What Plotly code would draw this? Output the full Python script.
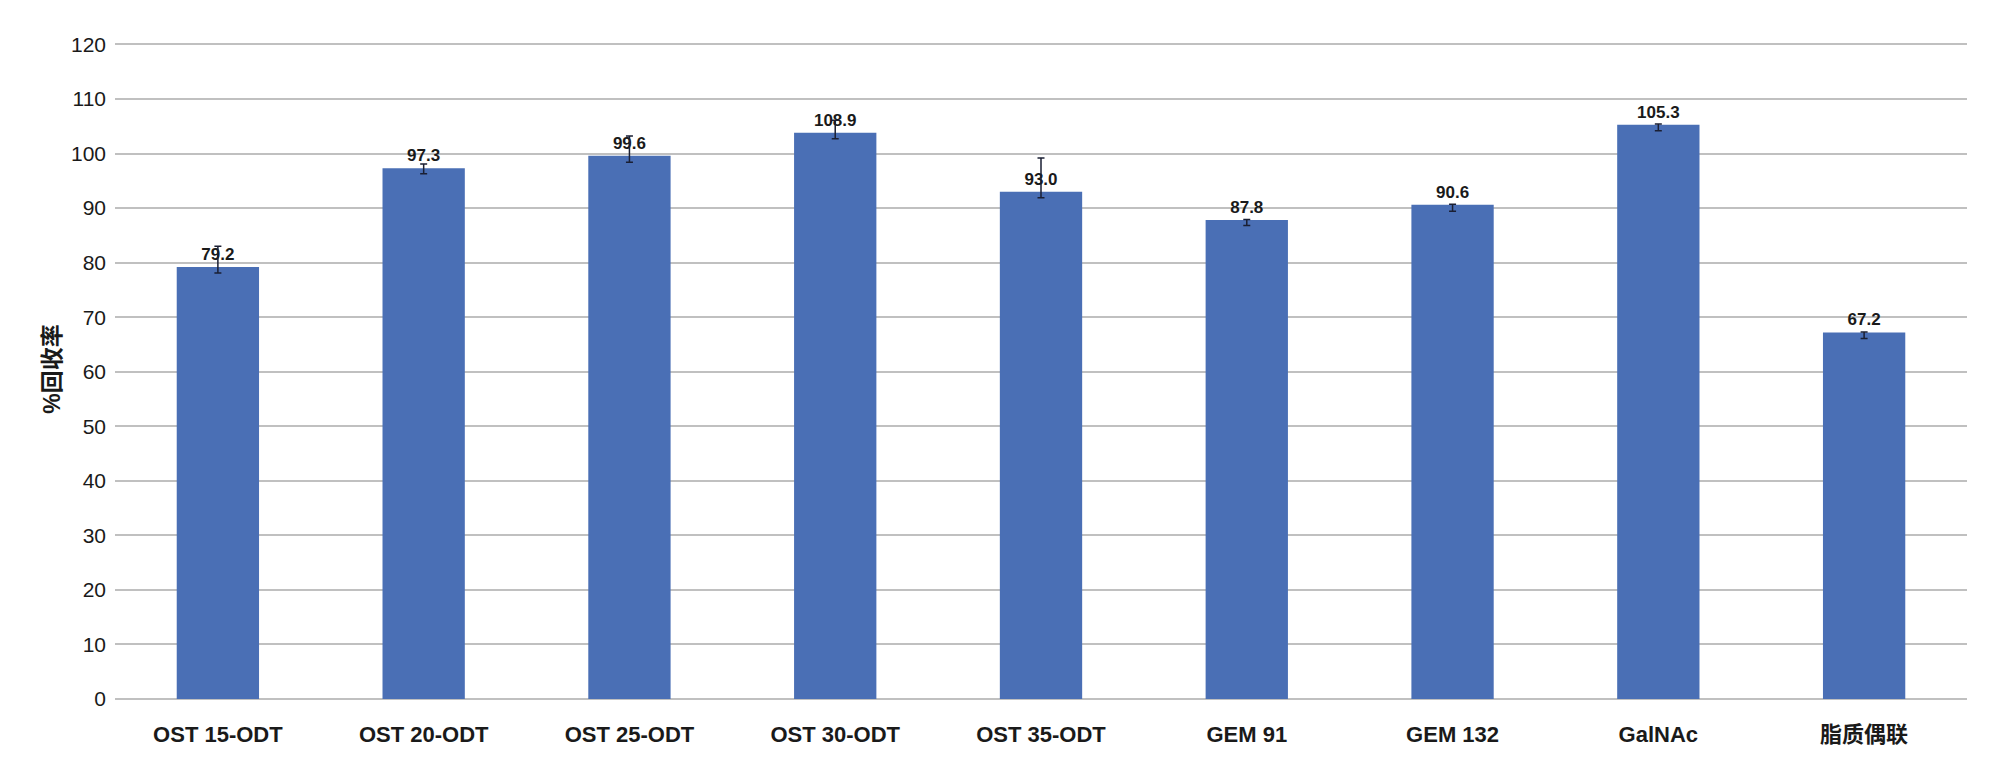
import plotly.graph_objects as go

categories = ["OST 15-ODT", "OST 20-ODT", "OST 25-ODT", "OST 30-ODT", "OST 35-ODT",
              "GEM 91", "GEM 132", "GalNAc", "脂质偶联"]
bar_values = [79.2, 97.3, 99.6, 103.8, 93.0, 87.8, 90.6, 105.3, 67.2]
value_labels = ["79.2", "97.3", "99.6", "108.9", "93.0", "87.8", "90.6", "105.3", "67.2"]
err_plus = [3.8, 0.8, 3.6, 2.3, 6.2, 0.1, 0.1, 0.1, 0.1]
err_minus = [1.1, 1.0, 1.2, 1.1, 1.1, 1.0, 1.2, 1.1, 1.1]
y_ticks = [0, 10, 20, 30, 40, 50, 60, 70, 80, 90, 100, 110, 120]

FONT = "Liberation Sans, Arial, Noto Sans CJK SC, sans-serif"

fig = go.Figure()
fig.add_trace(go.Bar(
    x=categories,
    y=bar_values,
    width=0.40,
    marker=dict(color="#4A6FB5", line=dict(width=0)),
    text=value_labels,
    textposition="outside",
    constraintext="none",
    cliponaxis=False,
    textfont=dict(family=FONT, size=17, color="#1a1a1a", weight="bold"),
    error_y=dict(type="data", symmetric=False, array=err_plus, arrayminus=err_minus,
                 color="#1a1f33", thickness=1.5, width=3.5),
))

fig.update_layout(
    width=1992, height=772,
    margin=dict(l=107, r=33, t=31, b=81, autoexpand=False),
    paper_bgcolor="white", plot_bgcolor="white",
    showlegend=False,
    font=dict(family=FONT, color="#1a1a1a"),
    xaxis=dict(
        showgrid=False, showline=False, zeroline=False,
        tickfont=dict(family=FONT, size=22, color="#1a1a1a", weight="bold"),
        ticks="", ticklabelstandoff=20,
    ),
    yaxis=dict(
        range=[0, 121], tickvals=y_ticks,
        showgrid=True, gridcolor="#C0C0C0", gridwidth=1.5,
        zeroline=True, zerolinecolor="#C0C0C0", zerolinewidth=1.5,
        showline=False, ticks="", ticklabelstandoff=8,
        tickfont=dict(family=FONT, size=21, color="#1a1a1a"),
        title=dict(text="%回收率", font=dict(family=FONT, size=23, color="#1a1a1a", weight="bold"),
                   standoff=3),
    ),
)

fig.write_html("out.html")
